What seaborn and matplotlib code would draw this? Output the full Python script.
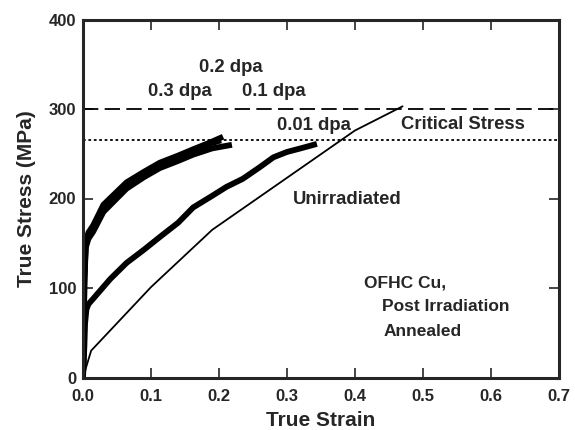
import matplotlib
matplotlib.use("Agg")
import matplotlib.pyplot as plt
import seaborn as sns
import pandas as pd

sns.set_style("ticks")
plt.rcParams['font.family'] = ['Liberation Sans', 'DejaVu Sans']
plt.rcParams['font.weight'] = 'bold'

# Data
unirr_strain = [0.0, 0.012, 0.10, 0.19, 0.40, 0.47]
unirr_stress = [0, 30, 101, 165, 276, 303]

d001_strain = [0.0, 0.002, 0.003, 0.005, 0.008, 0.015, 0.04, 0.064, 0.09, 0.113, 0.14, 0.162, 0.19, 0.211, 0.235, 0.26, 0.28, 0.30, 0.32, 0.344]
d001_stress = [0, 35, 60, 76, 82, 88, 110, 128, 143, 157, 173, 190, 203, 213, 222, 235, 246, 252, 256, 261]

d01_strain = [0.0, 0.001, 0.002, 0.004, 0.008, 0.015, 0.03, 0.064, 0.09, 0.113, 0.14, 0.162, 0.19, 0.219]
d01_stress = [0, 40, 105, 145, 155, 163, 185, 211, 224, 234, 242, 249, 256, 260]

d02_strain = [0.0, 0.001, 0.002, 0.004, 0.008, 0.015, 0.03, 0.064, 0.09, 0.113, 0.14, 0.162, 0.19, 0.203]
d02_stress = [0, 45, 110, 148, 158, 166, 189, 214, 227, 237, 245, 252, 262, 265]

d03_strain = [0.0, 0.001, 0.002, 0.004, 0.008, 0.015, 0.03, 0.064, 0.09, 0.113, 0.14, 0.162, 0.185, 0.206]
d03_stress = [0, 50, 115, 152, 162, 170, 193, 218, 230, 240, 248, 255, 262, 269]

critical_stress = 265
dashed_level = 300

fig = plt.figure(figsize=(5.75, 4.30), dpi=100)
ax = fig.add_axes([83/575, 1-377.5/430, (559-83)/575, (377.5-19.5)/430])

thick = [(d03_strain, d03_stress), (d02_strain, d02_stress), (d01_strain, d01_stress), (d001_strain, d001_stress)]
for xs, ys in thick:
    df = pd.DataFrame({"strain": xs, "stress": ys})
    sns.lineplot(data=df, x="strain", y="stress", ax=ax, color="black", linewidth=4.2,
                 sort=False, estimator=None, solid_capstyle="butt")

df_u = pd.DataFrame({"strain": unirr_strain, "stress": unirr_stress})
sns.lineplot(data=df_u, x="strain", y="stress", ax=ax, color="black", linewidth=1.3,
             sort=False, estimator=None)

ax.axhline(dashed_level, color="black", linewidth=1.3, linestyle=(0, (8.5, 3.5)))
ax.axhline(critical_stress, color="black", linewidth=1.3, linestyle=(0, (1.5, 1.5)))

ax.set_xlim(0, 0.7)
ax.set_ylim(0, 400)
ax.set_xticks([0.0, 0.1, 0.2, 0.3, 0.4, 0.5, 0.6, 0.7])
ax.set_xticklabels(["0.0", "0.1", "0.2", "0.3", "0.4", "0.5", "0.6", "0.7"])
ax.set_yticks([0, 100, 200, 300, 400])
ax.set_yticklabels(["0", "100", "200", "300", "400"])
ax.tick_params(direction="in", length=7, width=1.2, top=True, right=True, labelsize=12)
ax.tick_params(axis="x", pad=8)
ax.tick_params(axis="y", pad=5)
for lab in ax.get_xticklabels() + ax.get_yticklabels():
    lab.set_fontweight("bold")
for sp in ax.spines.values():
    sp.set_linewidth(2.2)
    sp.set_visible(True)

ax.set_xlabel("True Strain", fontsize=15, fontweight="bold", labelpad=5)
ax.set_ylabel("True Stress (MPa)", fontsize=15, fontweight="bold", labelpad=9)

kw = dict(fontsize=13.3, fontweight="bold", ha="center", va="center")
ax.text(0.217, 346, "0.2 dpa", **kw)
ax.text(0.142, 319, "0.3 dpa", **kw)
ax.text(0.280, 320, "0.1 dpa", **kw)
ax.text(0.340, 282, "0.01 dpa", **kw)
ax.text(0.559, 283, "Critical Stress", **kw)
ax.text(0.388, 199, "Unirradiated", **kw)
kwl = dict(fontsize=12.5, fontweight="bold", ha="left", va="center")
ax.text(0.413, 106, "OFHC Cu,", **kwl)
ax.text(0.439, 79, "Post Irradiation", **kwl)
ax.text(0.442, 51, "Annealed", **kwl)

fig.savefig("out.png", dpi=100)
